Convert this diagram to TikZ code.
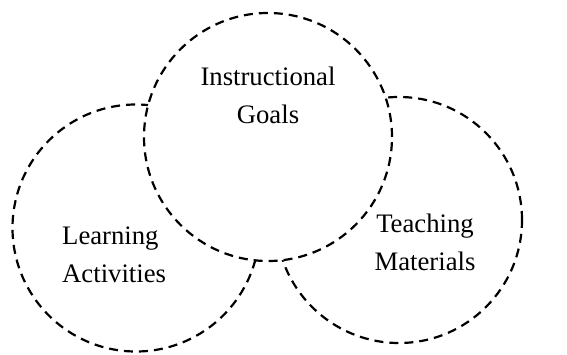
\documentclass[tikz,border=0pt]{standalone}
\usepackage{fontspec}
\setmainfont{Liberation Serif}
\begin{document}
\begin{tikzpicture}[x=1pt,y=1pt,
  ring/.style={circle,draw=black,line width=2.2pt,dash pattern=on 9pt off 6pt,fill=white,inner sep=0pt},
  label/.style={inner sep=0pt,font=\fontsize{26.7}{38}\selectfont}]
\useasboundingbox (0,0) rectangle (567,354);
\node[ring,minimum size=247pt] (left) at (136,126) {};
\node[ring,minimum size=246pt] (right) at (399,134) {};
\node[ring,minimum size=248pt] (top) at (268,217) {};
\node[label,align=center] (goals) at (268,259) {Instructional\\Goals};
\node[label,align=left,anchor=west] (act) at (62,99) {Learning\\Activities};
\node[label,align=center] (mat) at (425,112) {Teaching\\Materials};
\end{tikzpicture}
\end{document}
